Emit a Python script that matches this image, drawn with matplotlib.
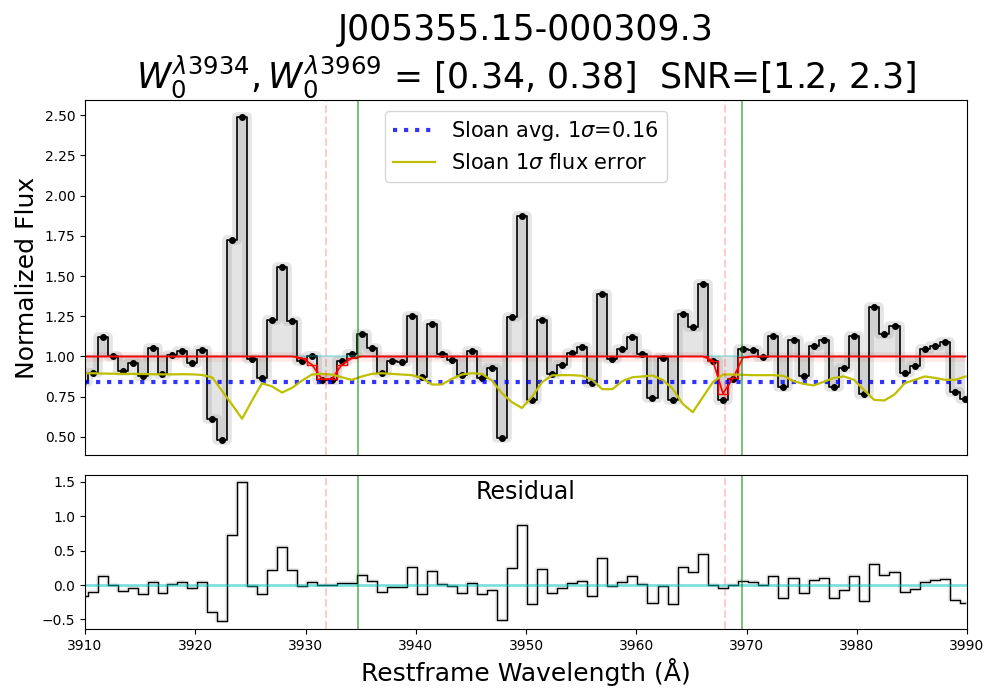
import matplotlib
matplotlib.use("Agg")
import matplotlib.pyplot as plt
import numpy as np

# flux per SDSS pixel (restframe), first pixel sits just left of 3910
wave_start = 3909.82
flux = [0.84,
        0.90, 1.124, 1.00, 0.91, 0.96, 0.876, 1.05, 0.89, 1.01, 1.037,
        0.96, 1.04, 0.61, 0.48, 1.725, 2.49, 0.985, 0.865, 1.224, 1.555,
        1.22, 0.973, 1.00, 0.855, 0.855, 0.973, 1.014, 1.14, 1.054, 0.90,
        0.972, 0.968, 1.254, 0.871, 1.205, 1.017, 0.98, 0.888, 1.032, 0.868,
        0.927, 0.495, 1.248, 1.876, 0.727, 1.228, 0.89, 0.95, 1.024, 1.06,
        0.834, 1.39, 0.985, 1.048, 1.124, 1.018, 0.745, 0.99, 0.727, 1.265,
        1.186, 1.45, 0.97, 0.73, 0.86, 1.048, 1.04, 0.996, 1.13, 0.81,
        1.10, 0.88, 1.066, 1.10, 0.81, 0.93, 1.13, 0.768, 1.31, 1.14,
        1.19, 0.90, 0.942, 1.048, 1.068, 1.087, 0.78, 0.735]

# 1 - sloan flux error
err_line = [0.895,
            0.896, 0.894, 0.893, 0.892, 0.892, 0.891, 0.890, 0.889, 0.889, 0.890,
            0.889, 0.885, 0.87, 0.785, 0.70, 0.613, 0.727, 0.834, 0.814, 0.776,
            0.805, 0.85, 0.888, 0.892, 0.888, 0.871, 0.855, 0.876, 0.892, 0.896,
            0.892, 0.888, 0.884, 0.867, 0.826, 0.826, 0.861, 0.888, 0.896, 0.892,
            0.851, 0.772, 0.716, 0.68, 0.75, 0.84, 0.883, 0.884, 0.884, 0.88,
            0.855, 0.797, 0.797, 0.847, 0.871, 0.876, 0.882, 0.855, 0.80, 0.706,
            0.654, 0.747, 0.84, 0.888, 0.888, 0.886, 0.884, 0.884, 0.884, 0.88,
            0.847, 0.83, 0.82, 0.843, 0.867, 0.876, 0.855, 0.79, 0.73, 0.727,
            0.764, 0.834, 0.855, 0.876, 0.867, 0.855, 0.855, 0.876]

# CaII K / H absorption model
model = [1.0] * 22 + [0.99, 0.95, 0.86, 0.86, 0.95, 0.99] + [1.0] * 35 \
    + [0.975, 0.77, 0.865, 0.995] + [1.0] * 22

sloan_avg_sigma = 0.16
fit_lines = [3931.86, 3968.05]
rest_lines = [3934.78, 3969.59]

wave = wave_start * 10 ** (1e-4 * np.arange(len(flux)))
flux = np.array(flux)
model = np.array(model)
resid = flux - model

fig = plt.figure(figsize=(10, 7), dpi=100)
ax1 = fig.add_axes([0.085, 0.35, 0.882, 0.507])
ax2 = fig.add_axes([0.085, 0.1014, 0.882, 0.22])

# top panel
ax1.fill_between(wave, flux, 1.0, step='mid', color='lightgray', alpha=0.6, lw=0)
ax1.step(wave, flux, where='mid', color='gray', lw=7, alpha=0.2)
ax1.step(wave, flux, where='mid', color='k', lw=1.2)
ax1.plot(wave, flux, 'ko', ms=4)
ax1.axhline(1.0, color='c', alpha=0.3, lw=1.5)
ax1.fill_between(wave, model - 0.03, model + 0.03, color='r', alpha=0.08, lw=0)
ax1.plot(wave, model, 'r', lw=1.2)
ax1.step(wave, model, where='mid', color='r', lw=1)
ax1.axhline(1 - sloan_avg_sigma, color='b', ls=':', lw=3, alpha=0.8,
            label=r'Sloan avg. 1$\sigma$=0.16')
ax1.plot(wave, err_line, color='y', lw=1.6, label=r'Sloan 1$\sigma$ flux error')
for w in fit_lines:
    ax1.axvline(w, color='r', ls='--', alpha=0.2)
for w in rest_lines:
    ax1.axvline(w, color='g', alpha=0.5)
ax1.set_xlim(3910, 3990)
ax1.set_ylim(0.388, 2.593)
ax1.set_xticks([])
ax1.set_ylabel('Normalized Flux', fontsize=18)
ax1.legend(loc='upper center', fontsize=15)
ax1.set_title('J005355.15-000309.3\n'
              r'$W_0^{\lambda 3934}, W_0^{\lambda 3969}$ = [0.34, 0.38]  SNR=[1.2, 2.3]',
              fontsize=25)

# residual panel
ax2.step(wave, resid, where='mid', color='gray', lw=3, alpha=0.15)
ax2.step(wave, resid, where='mid', color='k', lw=1)
ax2.axhline(0, color='c', alpha=0.5, lw=2)
for w in fit_lines:
    ax2.axvline(w, color='r', ls='--', alpha=0.2)
for w in rest_lines:
    ax2.axvline(w, color='g', alpha=0.5)
ax2.text(0.5, 0.89, 'Residual', transform=ax2.transAxes, ha='center', va='center',
         fontsize=17)
ax2.set_xlim(3910, 3990)
ax2.set_ylim(-0.638, 1.594)
ax2.set_xlabel(u'Restframe Wavelength (Å)', fontsize=18)

fig.savefig('out.png', dpi=100)
